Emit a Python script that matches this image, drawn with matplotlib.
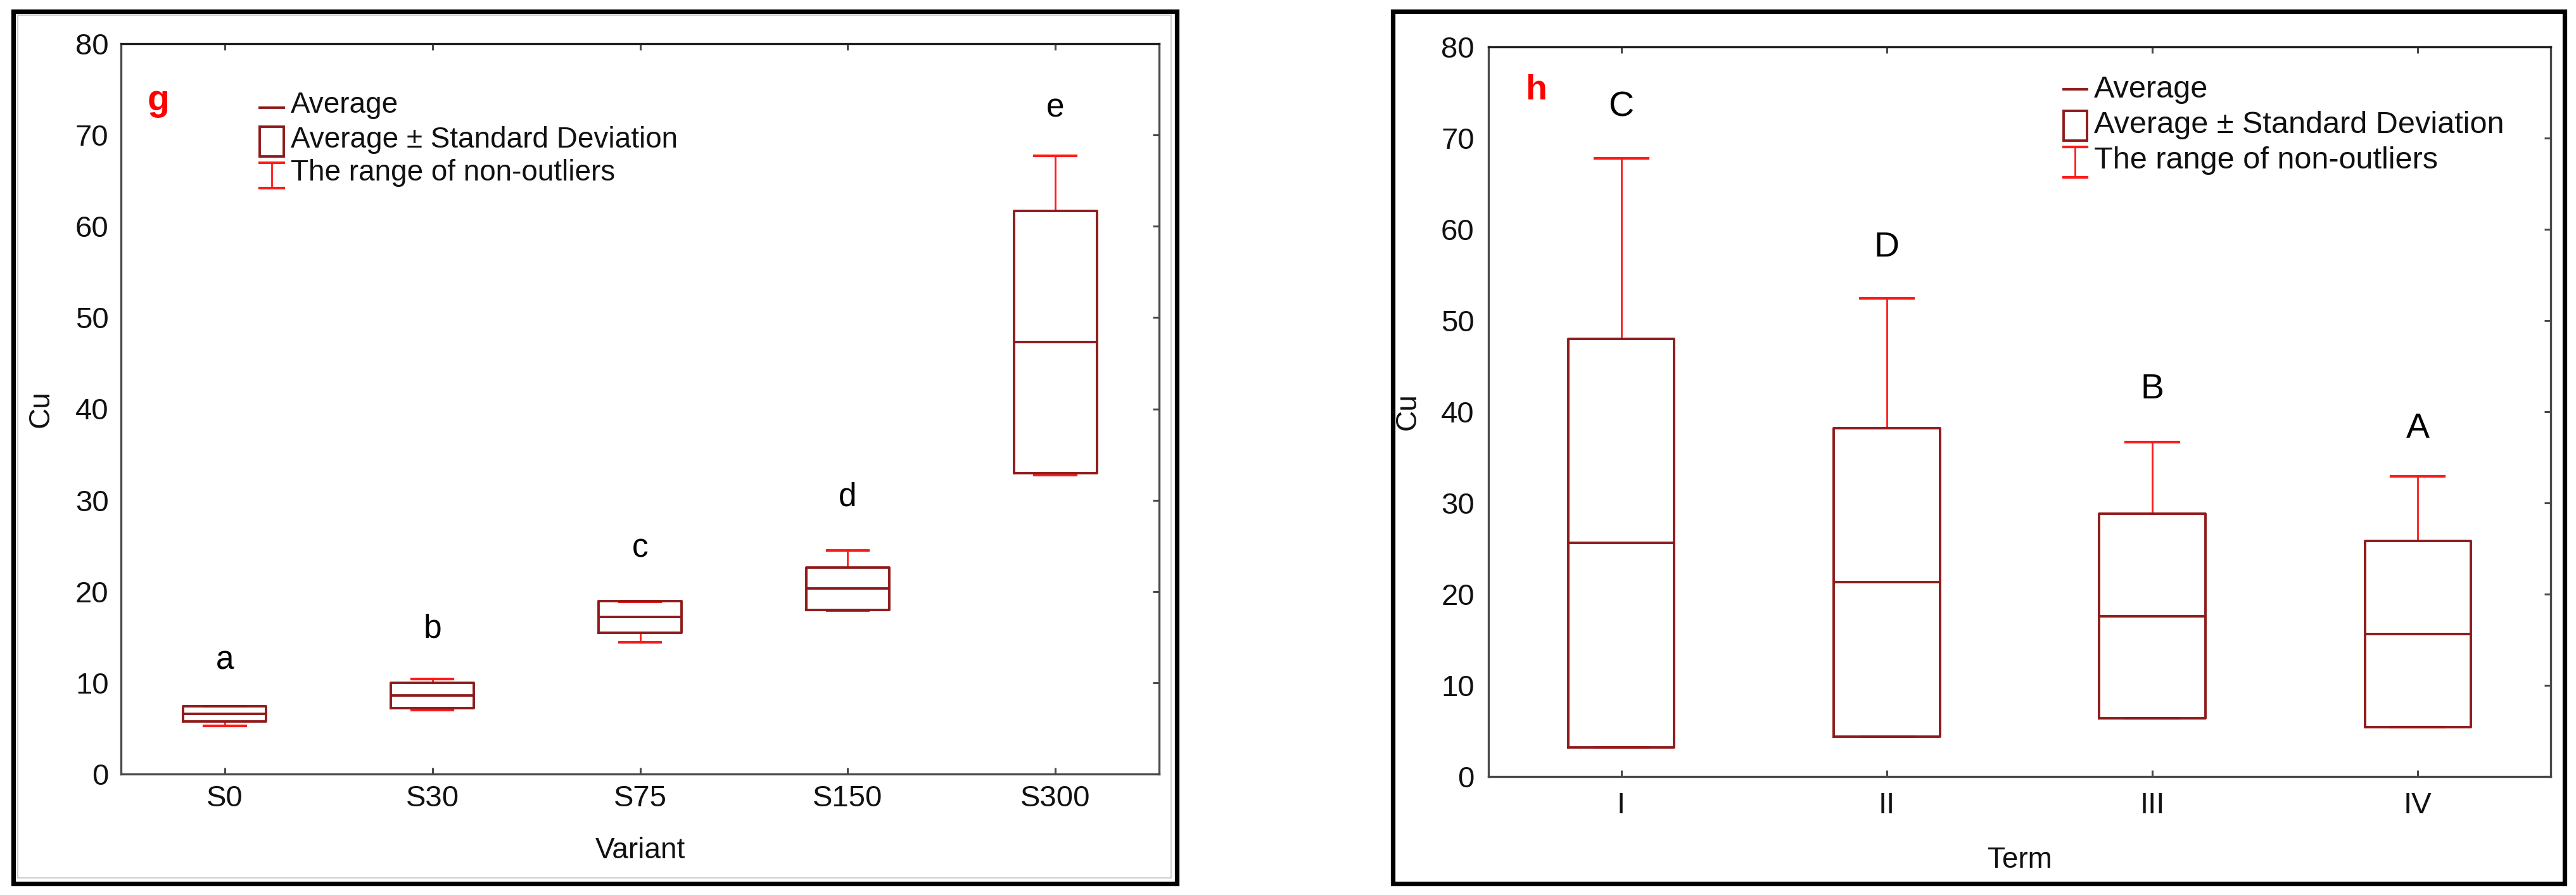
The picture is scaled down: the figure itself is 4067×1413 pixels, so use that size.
import matplotlib
matplotlib.use("Agg")
import matplotlib.pyplot as plt
from matplotlib.patches import Rectangle

plt.rcParams['font.family'] = ['Liberation Sans', 'DejaVu Sans']

# ---- data (panel g: Cu by variant) ----
variants = ["S0", "S30", "S75", "S150", "S300"]
g_mean = [6.6, 8.6, 17.2, 20.3, 47.3]
g_sd = [0.83, 1.4, 1.75, 2.35, 14.35]
g_min = [5.3, 7.0, 14.4, 17.9, 32.75]
g_max = [7.4, 10.4, 18.9, 24.5, 67.7]
g_letters = ["a", "b", "c", "d", "e"]
g_letter_y = [12.4, 15.9, 24.7, 30.3, 72.9]

# ---- data (panel h: Cu by term) ----
terms = ["I", "II", "III", "IV"]
h_mean = [25.6, 21.3, 17.6, 15.6]
h_sd = [22.4, 16.9, 11.2, 10.2]
h_min = [3.2, 4.4, 6.4, 5.4]
h_max = [67.8, 52.4, 36.7, 32.9]
h_letters = ["C", "D", "B", "A"]
h_letter_y = [73.4, 58.0, 42.4, 38.1]

yticks = [0, 10, 20, 30, 40, 50, 60, 70, 80]

BOX_COLOR = "#8E1B1B"
WHISK_COLOR = "#FF1A1A"
SPINE_COLOR = "#4a4a4a"


def make_stats(labels, mean, sd, lo, hi):
    stats = []
    for lab, m, s, a, b in zip(labels, mean, sd, lo, hi):
        stats.append(dict(label=lab, med=m, q1=m - s, q3=m + s,
                          whislo=a, whishi=b, fliers=[]))
    return stats


def draw_panel(ax, labels, mean, sd, lo, hi, letters, letter_y, letter_size):
    stats = make_stats(labels, mean, sd, lo, hi)
    ax.bxp(stats, positions=range(len(labels)), widths=0.4, capwidths=0.2,
           showfliers=False,
           boxprops=dict(color=BOX_COLOR, linewidth=2.8, zorder=3),
           medianprops=dict(color=BOX_COLOR, linewidth=2.8, zorder=3),
           whiskerprops=dict(color=WHISK_COLOR, linewidth=2.0, zorder=2),
           capprops=dict(color=WHISK_COLOR, linewidth=3.0, zorder=2))
    for i, (t, y) in enumerate(zip(letters, letter_y)):
        ax.text(i, y, t, ha="center", va="center", fontsize=letter_size,
                color="black")
    ax.set_xlim(-0.5, len(labels) - 0.5)
    ax.set_ylim(0, 80)
    ax.set_yticks(yticks)
    ax.set_xticks(range(len(labels)))
    ax.set_xticklabels(labels)
    for sp in ax.spines.values():
        sp.set_color(SPINE_COLOR)
        sp.set_linewidth(2.4)
    ax.spines["top"].set_color("#222222")
    ax.tick_params(axis="both", direction="in", labelsize=34, colors=SPINE_COLOR,
                   labelcolor="#111111", width=2.2, length=7)
    ax.tick_params(axis="x", top=True, bottom=True)
    ax.tick_params(axis="y", left=False, right=True)


def draw_key(ax, x0, x1, y_avg, box_lo, box_hi, ib_lo, ib_hi, tx, rows, size):
    tr = ax.transAxes
    ax.plot([x0, x1], [y_avg, y_avg], color=BOX_COLOR, lw=2.8, transform=tr,
            clip_on=False)
    ax.add_patch(Rectangle((x0, box_lo), x1 - x0, box_hi - box_lo, fill=False,
                           edgecolor=BOX_COLOR, lw=2.8, transform=tr))
    xm = (x0 + x1) / 2
    ax.plot([xm, xm], [ib_lo, ib_hi], color=WHISK_COLOR, lw=2.0, transform=tr)
    ax.plot([x0, x1], [ib_lo, ib_lo], color=WHISK_COLOR, lw=3.0, transform=tr)
    ax.plot([x0, x1], [ib_hi, ib_hi], color=WHISK_COLOR, lw=3.0, transform=tr)
    texts = ["Average", "Average \u00b1 Standard Deviation",
             "The range of non-outliers"]
    for t, y in zip(texts, rows):
        ax.text(tx, y, t, transform=tr, ha="left", va="center", fontsize=size,
                color="#111111")


fig = plt.figure(figsize=(40.67, 14.13), dpi=100)
fig.patch.set_facecolor("white")

# outer frames
fig.patches.append(Rectangle((20.5 / 4067, 1 - 1394.5 / 1413), 1837.5 / 4067,
                             1377 / 1413, fill=False, edgecolor="black",
                             lw=5.2, transform=fig.transFigure))
fig.patches.append(Rectangle((28 / 4067, 1 - 1386 / 1413), 1821 / 4067,
                             1362 / 1413, fill=False, edgecolor="#cfcfcf",
                             lw=1.5, transform=fig.transFigure))
fig.patches.append(Rectangle((2198.5 / 4067, 1 - 1394.5 / 1413), 1850 / 4067,
                             1377 / 1413, fill=False, edgecolor="black",
                             lw=5.2, transform=fig.transFigure))

# panel g
ax1 = fig.add_axes([191 / 4067, 1 - 1222 / 1413, 1639 / 4067, 1153 / 1413])
draw_panel(ax1, variants, g_mean, g_sd, g_min, g_max, g_letters, g_letter_y, 37)
ax1.tick_params(axis="x", pad=12)
ax1.tick_params(axis="y", pad=14)
ax1.set_xlabel("Variant", fontsize=33, color="#111111")
ax1.set_ylabel("Cu", fontsize=33, color="#111111")
ax1.xaxis.set_label_coords(0.5, -0.086)
ax1.yaxis.set_label_coords(-0.0635, 0.5)
ax1.text(0.036, 0.922, "g", transform=ax1.transAxes, ha="center", va="center",
         fontsize=41, fontweight="bold", color="#ff0000")
draw_key(ax1, 0.1336, 0.1568, 0.9124, 0.8456, 0.8864, 0.8023, 0.8369,
         0.1635, [0.9159, 0.8682, 0.8231], 33)

# panel h
ax2 = fig.add_axes([2350 / 4067, 1 - 1226 / 1413, 1677 / 4067, 1152 / 1413])
draw_panel(ax2, terms, h_mean, h_sd, h_min, h_max, h_letters, h_letter_y, 40)
ax2.tick_params(axis="x", pad=17)
ax2.tick_params(axis="y", pad=16)
ax2.set_xlabel("Term", fontsize=33, color="#111111")
ax2.set_ylabel("Cu", fontsize=33, color="#111111")
ax2.xaxis.set_label_coords(0.5, -0.0955)
ax2.yaxis.set_label_coords(-0.063, 0.5)
ax2.text(0.0447, 0.940, "h", transform=ax2.transAxes, ha="center", va="center",
         fontsize=40, fontweight="bold", color="#ff0000")
draw_key(ax2, 0.5414, 0.5635, 0.9418, 0.8715, 0.9123, 0.8212, 0.8628,
         0.5701, [0.9410, 0.8932, 0.8438], 35)

fig.savefig("out.png", dpi=100, facecolor="white")
